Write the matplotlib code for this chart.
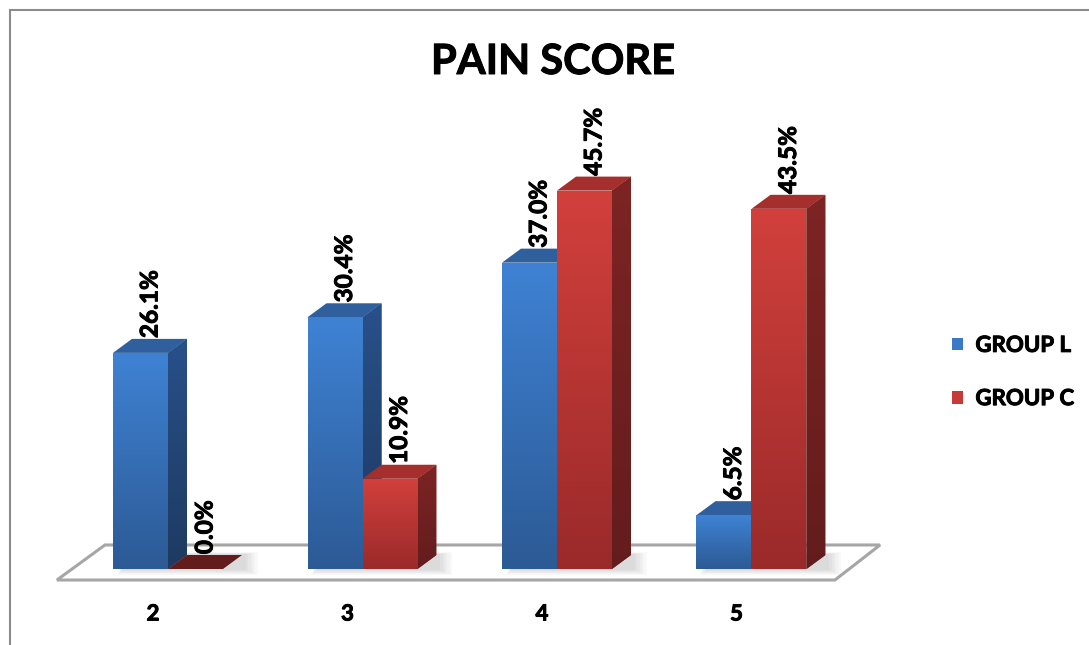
import numpy as np
import matplotlib
matplotlib.use("Agg")
import matplotlib.pyplot as plt
import matplotlib.patheffects as pe
from matplotlib.patches import Polygon, Rectangle, Patch
from matplotlib.colors import LinearSegmentedColormap

# ---- data ----
categories = ["2", "3", "4", "5"]
series_names = ["GROUP L", "GROUP C"]
group_l = [26.1, 30.4, 37.0, 6.5]
group_c = [0.0, 10.9, 45.7, 43.5]
title = "PAIN SCORE"

FONT = "Lato"
WEIGHT = "bold"
thick = [pe.withStroke(linewidth=0.7, foreground="black")]
W, H = 1089, 645
fig = plt.figure(figsize=(W / 100, H / 100), dpi=100)

# axes placed so that the data map onto the reference pixel geometry
px_left, px_right, px_top, px_bot = 40, 900, 100, 600
ax = fig.add_axes([px_left / W, (H - px_bot) / H, (px_right - px_left) / W, (px_bot - px_top) / H])
ppx_x = 194.5       # pixels per category
ppx_y = 8.28        # pixels per percent
x0_px, y0_px = 168, 569
ax.set_xlim((px_left - x0_px) / ppx_x, (px_right - x0_px) / ppx_x)
ax.set_ylim((y0_px - px_bot) / ppx_y, (y0_px - px_top) / ppx_y)
ax.axis("off")

bw = 55 / ppx_x            # bar width
dx = 19 / ppx_x            # depth offset (x)
dy = 14 / ppx_y            # depth offset (y)

# floor
fb = 2.9                   # back edge height
ff = -1.33                 # front edge height
floor = Polygon([(-0.571, ff), (-0.324, fb), (3.661, fb), (3.429, ff)],
                closed=True, facecolor="white", edgecolor="#a6a6a6", lw=2.2, zorder=1)
ax.add_patch(floor)

styles = {
    "GROUP L": dict(top="#3f82d4", bottom="#2c5a95", side_top="#28508a", side_bot="#1e3a60",
                    cap="#2f5f9c", legend="#3a78c8"),
    "GROUP C": dict(top="#d2403c", bottom="#9a2a2a", side_top="#7e2424", side_bot="#631c1c",
                    cap="#a52f2d", legend="#c83a38"),
}

grad = np.linspace(1, 0, 256).reshape(-1, 1)
xs = np.arange(len(categories))

def draw_shadow(xl, xr, z):
    # soft blurred shadow on the floor behind/right of a bar
    for k in range(6):
        e = 0.012 * k
        sh = Polygon([(xl + dx * 0.5 - e * 0.5, -0.15 - 0.12 * k),
                      (xr + dx + 0.02 + e, -0.15 - 0.12 * k),
                      (xr + dx + 0.02 + e, dy + 0.1 + 0.05 * k),
                      (xl + dx - e * 0.5, dy + 0.1 + 0.05 * k)],
                     closed=True, facecolor="black", alpha=0.022, lw=0, zorder=z)
        ax.add_patch(sh)

def draw_bar(xl, h, st, z):
    xr = xl + bw
    # side face
    side = Polygon([(xr, 0), (xr + dx, dy), (xr + dx, h + dy), (xr, h)], closed=True,
                   facecolor=st["side_top"], edgecolor="none", zorder=z)
    ax.add_patch(side)
    if h > 0:
        cm_s = LinearSegmentedColormap.from_list("s", [st["side_bot"], st["side_top"]])
        ims = ax.imshow(grad, extent=[xr, xr + dx, 0, h + dy], aspect="auto", cmap=cm_s,
                        vmin=0, vmax=1, zorder=z, interpolation="bilinear")
        ims.set_clip_path(side)
    # top face
    topc = st["cap"] if h > 0 else st["side_bot"]
    cap = Polygon([(xl, h), (xl + dx, h + dy), (xr + dx, h + dy), (xr, h)], closed=True,
                  facecolor=topc, edgecolor="none", zorder=z + 0.1)
    ax.add_patch(cap)
    # front face
    if h > 0:
        bar = ax.bar(xl, h, width=bw, align="edge", color=st["top"], lw=0, zorder=z + 0.2)[0]
        cm_f = LinearSegmentedColormap.from_list("f", [st["bottom"], st["top"]])
        im = ax.imshow(grad, extent=[xl, xr, 0, h], aspect="auto", cmap=cm_f,
                       vmin=0, vmax=1, zorder=z + 0.2, interpolation="bilinear")
        im.set_clip_path(bar)

for i in xs:
    draw_shadow(i - bw, i + bw, 2)
for i in xs:
    draw_bar(i - bw, group_l[i], styles["GROUP L"], 3 + i * 2)
    draw_bar(i, group_c[i], styles["GROUP C"], 4 + i * 2)

# value labels
for i in xs:
    for xl, v in [(i - bw, group_l[i]), (i, group_c[i])]:
        ax.text(xl + bw / 2 + dx / 2, v + dy + 0.1, f"{v:.1f}%", rotation=90,
                ha="center", va="bottom", fontsize=17.5, fontweight=WEIGHT,
                family=FONT, color="black", zorder=20, path_effects=thick)

# category labels
for i in xs:
    ax.text(i - 15 / ppx_x, (y0_px - 614) / ppx_y, categories[i], ha="center", va="center",
            fontsize=16, fontweight=WEIGHT, family=FONT, color="black", path_effects=thick)

# title
fig.text(553 / W, 1 - 62 / H, title, ha="center", va="center", fontsize=30,
         fontweight=WEIGHT, family=FONT, path_effects=thick)

# legend
handles = [Patch(facecolor=styles[n]["legend"], edgecolor="none") for n in series_names]
leg = fig.legend(handles, series_names, loc="center left",
                 bbox_to_anchor=(941 / W, 1 - 372 / H), frameon=False,
                 prop=dict(family=FONT, weight=WEIGHT, size=16),
                 handlelength=0.5, handleheight=0.5, handletextpad=0.55,
                 labelspacing=1.45, borderpad=0)
for t in leg.get_texts():
    t.set_path_effects(thick)

# chart border
fig.add_artist(Rectangle((10 / W, -0.05), 1.2, 1 - 10 / H + 0.05, transform=fig.transFigure,
                         fill=False, edgecolor="#8c8c8c", lw=1.5))

fig.savefig("out.png", dpi=100, facecolor="white")
